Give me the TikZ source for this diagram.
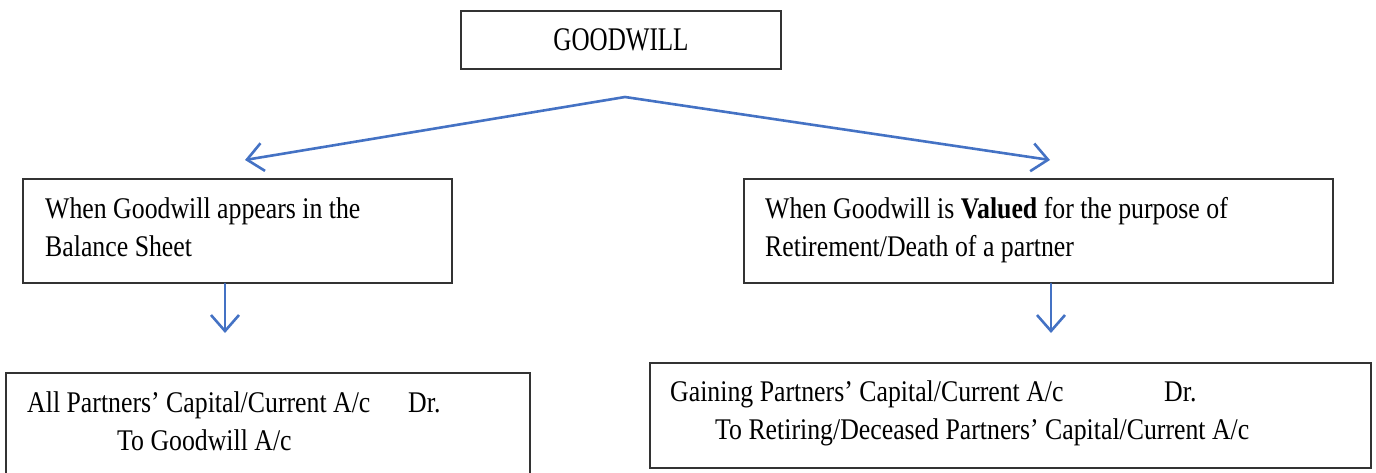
\documentclass[tikz,border=0pt]{standalone}
\usepackage{fontspec}
\setmainfont{Liberation Serif}[FakeStretch=0.86]
\newfontfamily\headfont{Liberation Serif}[FakeStretch=0.76]
\usetikzlibrary{arrows.meta}

\definecolor{flowblue}{RGB}{68,114,196}

\tikzset{
	box/.style = {draw = black!80, line width = 1.8pt, rectangle, inner sep = 0pt},
	txt/.style = {anchor = base west, inner sep = 0pt, align = left, font = \fontsize{30}{38}\selectfont},
	flow/.style = {draw = flowblue, line width = 2.6pt, line cap = round,
		-{Straight Barb[length = 16pt, width = 28pt]}}
}

\begin{document}
\begin{tikzpicture}[x = 1pt, y = -1pt]
	 \useasboundingbox (0, 0) rectangle (1376, 473);
	 
	 % boxes
	 \node[box, minimum width = 320pt, minimum height = 58pt, font = \headfont\fontsize{33}{38}\selectfont] (goodwill) at (621, 40) {GOODWILL};
	 \node[box, minimum width = 429pt, minimum height = 104pt] (bsheet) at (237.5, 231) {};
	 \node[box, minimum width = 589pt, minimum height = 104pt] (valued) at (1038.5, 231) {};
	 \node[box, minimum width = 524pt, minimum height = 105pt] (entryL) at (268, 425.5) {};
	 \node[box, minimum width = 721pt, minimum height = 105pt] (entryR) at (1010.5, 415.5) {};
	 
	 % texts (base is the last line)
	 \node[txt] (bsheettext) at (45, 256) {When Goodwill appears in the\\Balance Sheet};
	 \node[txt] (valuedtext) at (765, 256) {When Goodwill is \textbf{Valued} for the purpose of\\Retirement/Death of a partner};
	 
	 \node[txt] (allcap) at (27, 412) {All Partners’ Capital/Current A/c};
	 \node[txt] (drL) at (408, 412) {Dr.};
	 \node[txt] (togw) at (117, 450) {To Goodwill A/c};
	 
	 \node[txt] (gaincap) at (670, 401) {Gaining Partners’ Capital/Current A/c};
	 \node[txt] (drR) at (1164, 401) {Dr.};
	 \node[txt] (toret) at (715, 439) {To Retiring/Deceased Partners’ Capital/Current A/c};
	 
	 % arrows
	 \coordinate (apex) at (625, 97);
	 \coordinate (ltip) at (245, 160);
	 \coordinate (rtip) at (1050, 160);
	 \draw[flow] (apex) -- (ltip);
	 \draw[flow] (apex) -- (rtip);
	 
	 \coordinate (ldown) at (225, 333);
	 \coordinate (rdown) at (1051, 333);
	 \draw[flow] (ldown |- bsheet.south) -- (ldown);
	 \draw[flow] (rdown |- valued.south) -- (rdown);
\end{tikzpicture}
\end{document}
